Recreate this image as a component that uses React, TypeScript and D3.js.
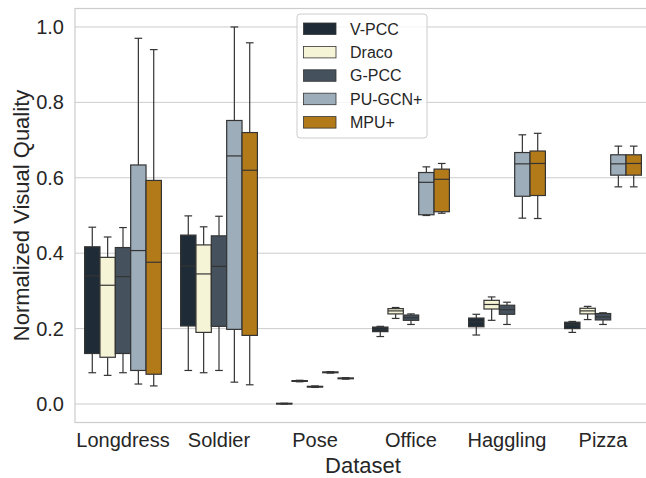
import React from "react";
import * as d3 from "d3";

const categories = ["Longdress", "Soldier", "Pose", "Office", "Haggling", "Pizza"];
const seriesNames = ["V-PCC", "Draco", "G-PCC", "PU-GCN+", "MPU+"];
const seriesColors = ["#1f2c37", "#f6f4d6", "#45525e", "#9dadba", "#b37a1a"];
const yTicks = [0, 0.2, 0.4, 0.6, 0.8, 1.0];

// [whisker low, q1, median, q3, whisker high] per category
const vpcc = [
  [0.083, 0.134, 0.340, 0.417, 0.469],
  [0.089, 0.207, 0.366, 0.448, 0.499],
  [0.0, 0.0, 0.001, 0.002, 0.002],
  [0.179, 0.192, 0.198, 0.204, 0.206],
  [0.183, 0.205, 0.218, 0.228, 0.238],
  [0.190, 0.200, 0.210, 0.217, 0.219],
];
const draco = [
  [0.076, 0.124, 0.315, 0.389, 0.443],
  [0.083, 0.190, 0.345, 0.422, 0.470],
  [0.059, 0.060, 0.061, 0.062, 0.063],
  [0.227, 0.239, 0.247, 0.253, 0.256],
  [0.222, 0.252, 0.264, 0.275, 0.284],
  [0.224, 0.239, 0.247, 0.254, 0.259],
];
const gpcc = [
  [0.083, 0.134, 0.338, 0.415, 0.468],
  [0.089, 0.206, 0.365, 0.446, 0.498],
  [0.044, 0.045, 0.046, 0.047, 0.048],
  [0.211, 0.222, 0.229, 0.236, 0.239],
  [0.211, 0.238, 0.250, 0.262, 0.270],
  [0.211, 0.223, 0.231, 0.240, 0.242],
];
const pugcn = [
  [0.053, 0.089, 0.407, 0.634, 0.970],
  [0.058, 0.198, 0.658, 0.752, 1.000],
  [0.082, 0.083, 0.084, 0.085, 0.086],
  [0.500, 0.502, 0.588, 0.614, 0.629],
  [0.493, 0.551, 0.637, 0.667, 0.714],
  [0.576, 0.607, 0.637, 0.661, 0.684],
];
const mpu = [
  [0.048, 0.079, 0.376, 0.593, 0.940],
  [0.051, 0.182, 0.620, 0.720, 0.958],
  [0.066, 0.067, 0.068, 0.069, 0.070],
  [0.506, 0.510, 0.596, 0.623, 0.638],
  [0.492, 0.553, 0.638, 0.671, 0.718],
  [0.576, 0.607, 0.638, 0.661, 0.684],
];
const seriesStats = [vpcc, draco, gpcc, pugcn, mpu];

const W = 646;
const H = 478;
const left = 75;
const right = 651;
const top = 8.5;
const bottom = 422.5;
const FONT = "'Liberation Sans', Arial, sans-serif";
const TEXT = "#262626";
const GRID = "#cccccc";
const LINE = "#343434";

export default function App() {
  const x = d3.scaleBand<string>().domain(categories).range([left, right]).padding(0);
  const bw = x.bandwidth();
  const inner = d3.scaleBand<string>().domain(seriesNames).range([-0.4 * bw, 0.4 * bw]).padding(0);
  const boxW = inner.bandwidth();
  const y = d3.scaleLinear().domain([-0.049, 1.049]).range([bottom, top]);

  return (
    <svg width={W} height={H} style={{ position: "absolute", left: 0, top: 0, background: "#fff" }} fontFamily={FONT}>
      {/* grid */}
      {yTicks.map((t) => (
        <line key={t} x1={left} x2={right} y1={y(t)} y2={y(t)} stroke={GRID} strokeWidth={1} />
      ))}
      {/* spines */}
      <rect x={left} y={top} width={right - left} height={bottom - top} fill="none" stroke={GRID} strokeWidth={1.2} />
      {/* boxes */}
      {seriesNames.map((s, si) =>
        categories.map((c, ci) => {
          const [lo, q1, med, q3, hi] = seriesStats[si][ci];
          const cx = (x(c) as number) + bw / 2 + (inner(s) as number) + boxW / 2;
          const x0 = cx - boxW / 2;
          const capW = boxW / 2;
          return (
            <g key={s + c}>
              <line x1={cx} x2={cx} y1={y(q1)} y2={y(lo)} stroke={LINE} strokeWidth={1.2} />
              <line x1={cx} x2={cx} y1={y(q3)} y2={y(hi)} stroke={LINE} strokeWidth={1.2} />
              <line x1={cx - capW / 2} x2={cx + capW / 2} y1={y(lo)} y2={y(lo)} stroke={LINE} strokeWidth={1.2} />
              <line x1={cx - capW / 2} x2={cx + capW / 2} y1={y(hi)} y2={y(hi)} stroke={LINE} strokeWidth={1.2} />
              <rect x={x0} y={y(q3)} width={boxW} height={Math.max(0, y(q1) - y(q3))} fill={seriesColors[si]} stroke={LINE} strokeWidth={1.2} />
              <line x1={x0} x2={x0 + boxW} y1={y(med)} y2={y(med)} stroke={LINE} strokeWidth={1.2} />
            </g>
          );
        })
      )}
      {/* y tick labels */}
      {yTicks.map((t) => (
        <text key={t} x={64} y={y(t)} dy="0.35em" textAnchor="end" fontSize={20} fill={TEXT}>
          {t.toFixed(1)}
        </text>
      ))}
      {/* x tick labels */}
      {categories.map((c) => (
        <text key={c} x={(x(c) as number) + bw / 2} y={447} textAnchor="middle" fontSize={20} fill={TEXT}>
          {c}
        </text>
      ))}
      {/* axis titles */}
      <text x={(left + right) / 2} y={473} textAnchor="middle" fontSize={22} fill={TEXT}>
        Dataset
      </text>
      <text transform={`translate(29,${(top + bottom) / 2}) rotate(-90)`} textAnchor="middle" fontSize={22} fill={TEXT}>
        Normalized Visual Quality
      </text>
      {/* legend */}
      <g>
        <rect x={297} y={14} width={130} height={124} rx={3} fill="#fff" fillOpacity={0.8} stroke={GRID} strokeWidth={1} />
        {seriesNames.map((s, i) => (
          <g key={s} transform={`translate(0,${29 + i * 23.4})`}>
            <rect x={303.5} y={-6} width={32.5} height={11.5} fill={seriesColors[i]} stroke={LINE} strokeWidth={0.8} />
            <text x={350} y={0} dy="0.35em" fontSize={16} fill={TEXT}>
              {s}
            </text>
          </g>
        ))}
      </g>
    </svg>
  );
}
